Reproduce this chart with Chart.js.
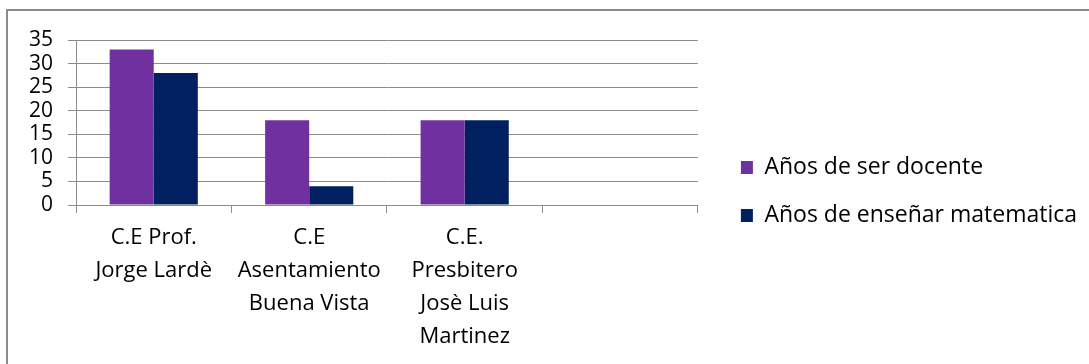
<!DOCTYPE html>
<html>
<head>
<meta charset="utf-8">
<script src="https://cdn.jsdelivr.net/npm/chart.js@4.4.1/dist/chart.umd.min.js"></script>
<style>
    body { margin: 0; background: #fff; overflow: hidden; }
    #frame { position: absolute; left: 6px; top: 9px; width: 1200px; height: 500px; border: 2px solid #8c8c8c; box-sizing: border-box; }
    #wrap { position: absolute; left: 0; top: 0; width: 1089px; height: 364px; }
</style>
</head>
<body>
<div id="frame"></div>
<div id="wrap"><canvas id="chart" width="1089" height="364"></canvas></div>
<script>
const schools = [
    ["C.E Prof.", "Jorge Lardè"],
    ["C.E", "Asentamiento", "Buena Vista"],
    ["C.E.", "Presbitero", "Josè Luis", "Martinez"],
    ""
];
const yearsTeaching = [33, 18, 18, null];
const yearsTeachingMath = [28, 4, 18, null];
const yTicks = [0, 5, 10, 15, 20, 25, 30, 35];

const gridColor = "#8c8c8c";
const font = "'Open Sans', 'DejaVu Sans', sans-serif";

const ctx = document.getElementById("chart").getContext("2d");
new Chart(ctx, {
    type: "bar",
    data: {
        labels: schools,
        datasets: [
            { label: "Años de ser docente", data: yearsTeaching, backgroundColor: "#7030A0" },
            { label: "Años de enseñar matematica", data: yearsTeachingMath, backgroundColor: "#002060" }
        ]
    },
    options: {
        responsive: false,
        animation: false,
        categoryPercentage: 0.567,
        barPercentage: 1,
        layout: { padding: { top: 40, left: 10, right: 2, bottom: 0 } },
        plugins: {
            tooltip: { enabled: false },
            legend: {
                position: "right",
                align: "start",
                maxWidth: 500,
                // blank title just pushes the two rows down to where they sit in the original
                title: { display: true, text: " ", font: { size: 10 }, padding: { top: 79, bottom: 0 } },
                labels: {
                    boxWidth: 12,
                    boxHeight: 13,
                    padding: 25,
                    color: "#000",
                    font: { family: font, size: 23 }
                }
            }
        },
        scales: {
            x: {
                grid: { offset: true, drawOnChartArea: false, tickLength: 8, color: gridColor },
                border: { color: gridColor },
                ticks: { color: "#000", padding: 8, maxRotation: 0, autoSkip: false, font: { family: font, size: 22, lineHeight: 1.5 } },
                afterFit: s => { s.height = 159; }
            },
            y: {
                min: 0,
                max: 35,
                afterBuildTicks: s => { s.ticks = yTicks.map(v => ({ value: v })); },
                grid: { color: gridColor, tickLength: 8 },
                border: { color: gridColor },
                ticks: { color: "#000", padding: 15, autoSkip: false, font: { family: font, size: 21 } },
                afterFit: s => { s.width = 66; }
            },
            gap: {
                position: "right",
                display: true,
                grid: { display: false },
                border: { display: false },
                ticks: { display: false },
                afterFit: s => { s.width = 18; }
            }
        }
    }
});
</script>
</body>
</html>
